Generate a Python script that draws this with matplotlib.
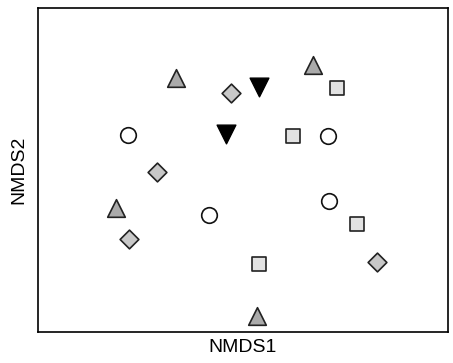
import matplotlib
matplotlib.use("Agg")
import matplotlib.pyplot as plt

plt.rcParams["font.family"] = ["Liberation Sans", "DejaVu Sans"]

# NMDS scores, grouped by marker
tri_x = [-0.67, 0.70, -1.27, 0.14]
tri_y = [0.92, 1.05, -0.38, -1.46]
dia_x = [-0.12, -0.86, -1.14, 1.34]
dia_y = [0.77, -0.02, -0.69, -0.92]
sq_x = [0.94, 0.50, 1.14, 0.16]
sq_y = [0.82, 0.34, -0.54, -0.94]
circ_x = [-1.15, 0.85, -0.34, 0.86]
circ_y = [0.35, 0.34, -0.45, -0.31]
inv_x = [0.16, -0.17]
inv_y = [0.83, 0.36]

fig = plt.figure(figsize=(4.53, 3.63), dpi=100)
ax = fig.add_axes([38 / 453, 31 / 363, 410 / 453, 324 / 363])

ms = 140
ax.scatter(tri_x, tri_y, marker="^", s=ms * 1.15, c="#aaaaaa", edgecolors="#222222", linewidths=1.2, zorder=3)
ax.scatter(dia_x, dia_y, marker="D", s=ms * 0.65, c="#c8c8c8", edgecolors="#222222", linewidths=1.2, zorder=3)
ax.scatter(sq_x, sq_y, marker="s", s=ms * 0.78, c="#e2e2e2", edgecolors="#222222", linewidths=1.2, zorder=3)
ax.scatter(circ_x, circ_y, marker="o", s=ms * 0.9, c="white", edgecolors="#111111", linewidths=1.2, zorder=3)
ax.scatter(inv_x, inv_y, marker="v", s=ms * 1.3, c="black", edgecolors="black", linewidths=1.0, zorder=3)

ax.set_xlim(-2.05, 2.05)
ax.set_ylim(-1.62, 1.62)
ax.set_xticks([])
ax.set_yticks([])
for sp in ax.spines.values():
    sp.set_linewidth(1.2)
ax.set_xlabel("NMDS1", fontsize=14, labelpad=5)
ax.set_ylabel("NMDS2", fontsize=14, labelpad=8)

fig.savefig("out.png", dpi=100)
